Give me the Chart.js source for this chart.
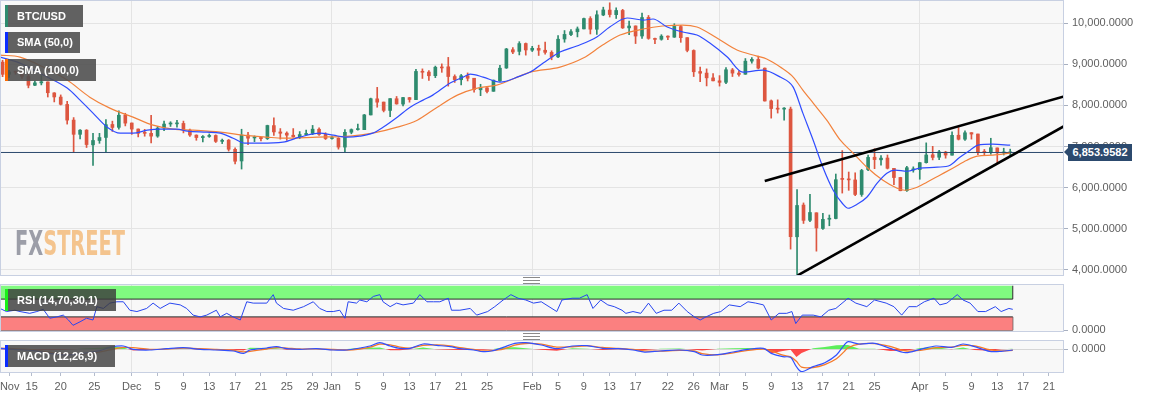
<!DOCTYPE html>
<html>
<head>
<meta charset="utf-8">
<title>BTC/USD</title>
<script src="https://cdn.jsdelivr.net/npm/chart.js@4.4.1/dist/chart.umd.min.js"></script>
<style>
  html, body { margin: 0; padding: 0; background: #fff; }
  #wrap { position: relative; width: 1153px; height: 399px; overflow: hidden; font-family: "Liberation Sans", Arial, sans-serif; }
  canvas { position: absolute; left: 0; }
  #main { top: 0; }
  #rsi { top: 283px; }
  #macd { top: 336px; }
  .tag { position: absolute; left: 5px; height: 22px; box-sizing: border-box; padding-left: 9px; border-left: 3px solid;
         background: rgba(80, 80, 80, 0.9); color: #fff; font: bold 11px "Liberation Sans", Arial, sans-serif; line-height: 22px; z-index: 3; white-space: nowrap; }
  .handle { position: absolute; left: 523px; width: 17px; height: 5px; border-top: 1px solid #8a8a8a; border-bottom: 1px solid #8a8a8a; z-index: 3; }
  .handle::after { content: ""; position: absolute; left: 0; right: 0; top: 2px; border-top: 1px solid #8a8a8a; }
  #price { position: absolute; left: 1068px; top: 144px; width: 64px; height: 17px; background: #2c4a6e; color: #fff;
           font: bold 11px "Liberation Sans", Arial, sans-serif; line-height: 17px; text-align: center; z-index: 3; }
  #price::before { content: ""; position: absolute; left: -4px; top: 4px; border-right: 4px solid #2c4a6e; border-top: 4.5px solid transparent; border-bottom: 4.5px solid transparent; }
  #logo { position: absolute; left: 15px; top: 226px; font: bold 34px "DejaVu Sans", sans-serif; line-height: 34px;
          transform: scaleX(0.57); transform-origin: 0 0; white-space: nowrap; z-index: 2; letter-spacing: 0; }
  #logo .fx { color: #9c9ea8; }
  #logo .st { color: #f4c48e; }
</style>
</head>
<body>
<div id="wrap">
  <canvas id="main" width="1153" height="276"></canvas>
  <canvas id="rsi" width="1153" height="57"></canvas>
  <canvas id="macd" width="1153" height="63"></canvas>

  <div class="tag" style="top:5px;width:78px;border-color:#2e8b6e">BTC/USD</div>
  <div class="tag" style="top:32px;width:75px;height:21px;line-height:21px;border-color:#0a2cff">SMA (50,0)</div>
  <div class="tag" style="top:59px;width:91px;border-color:#ff6a00">SMA (100,0)</div>
  <div class="tag" style="top:289px;width:111px;border-color:#19f019;background:rgba(60,60,60,0.82)">RSI (14,70,30,1)</div>
  <div class="tag" style="top:345px;width:110px;border-color:#0a2cff">MACD (12,26,9)</div>

  <div id="logo"><span class="fx">FX</span><span class="st">STREET</span></div>
  <div id="price">6,853.9582</div>
  <div class="handle" style="top:277px"></div>
  <div class="handle" style="top:333px"></div>
</div>

<script>
// x values are days counted from 1 Nov 2019 (0 = Nov 1); candles are daily, first one is 11 Nov 2019
const FIRST_DAY = 10;
const X_MIN = 9.6;
const X_MAX = 174.33;

const opens = [
  9055, 8759, 8812, 8811, 8705, 8491, 8549, 8573, 8305, 8204, 8024, 7643, 7296, 7398, 7039, 7145, 7220, 7536, 7466, 7764,
  7572, 7425, 7324, 7320, 7253, 7450, 7547, 7551, 7561, 7397, 7277, 7216, 7244, 7268, 7124, 7154, 6931, 6647, 7277, 7208,
  7220, 7192, 7509, 7354, 7325, 7274, 7238, 7289, 7317, 7420, 7294, 7194, 7202, 6985, 7346, 7411, 7410, 7768, 8161, 8082,
  7878, 8163, 8033, 8190, 8141, 8825, 8812, 8725, 8927, 8941, 8704, 8626, 8722, 8662, 8381, 8429, 8344, 8602, 8912, 9357,
  9316, 9508, 9346, 9389, 9344, 9292, 9183, 9618, 9726, 9794, 9864, 10116, 9856, 10203, 10323, 10211, 10313, 9889, 9936, 9691,
  10144, 9629, 9611, 9688, 9663, 9921, 9651, 9338, 8826, 8788, 8671, 8599, 8563, 8865, 8788, 8760, 9079, 9121, 8908, 8112,
  7922, 7910, 7913, 4800, 5573, 5201, 5385, 5002, 5228, 5245, 6207, 6206, 6185, 5831, 6437, 6738, 6675, 6719, 6467, 6245,
  5925, 6430, 6437, 6606, 6798, 6738, 6863, 6788, 7274, 7177, 7337, 7304, 6867, 6858, 6965, 6843, 6845
];
const highs = [
  9100, 8853, 8836, 8826, 8760, 8591, 8727, 8574, 8312, 8256, 8100, 7704, 7410, 7410, 7319, 7320, 7655, 7617, 7868, 7809,
  7572, 7428, 7418, 7760, 7488, 7621, 7603, 7634, 7618, 7424, 7284, 7266, 7305, 7284, 7181, 7171, 6965, 7420, 7346, 7257,
  7223, 7519, 7695, 7436, 7357, 7436, 7363, 7399, 7513, 7454, 7335, 7254, 7213, 7413, 7428, 7544, 7781, 8178, 8440, 8082,
  8166, 8218, 8198, 8197, 8880, 8890, 8846, 8958, 9012, 9170, 8745, 8755, 8792, 8663, 8515, 8434, 8620, 8975, 9390, 9406,
  9553, 9521, 9439, 9468, 9540, 9331, 9701, 9824, 9846, 9911, 10130, 10162, 10305, 10393, 10500, 10378, 10341, 10053, 9938, 10250,
  10191, 9643, 9723, 9698, 9990, 9951, 9652, 9354, 8932, 8890, 8775, 8726, 8921, 8901, 8843, 9142, 9167, 9200, 8914, 8133,
  8136, 7950, 7960, 5950, 5625, 5836, 5385, 5371, 5331, 6329, 6900, 6378, 6359, 6443, 6789, 6944, 6779, 6792, 6467, 6250,
  6517, 6504, 6612, 7088, 7003, 6904, 6883, 7355, 7460, 7383, 7337, 7304, 6928, 7200, 6965, 6958, 6935
];
const lows = [
  8700, 8685, 8761, 8660, 8428, 8480, 8500, 8205, 8085, 8010, 7545, 6850, 7185, 6975, 6540, 7077, 6860, 7366, 7420, 7501,
  7295, 7233, 7250, 7089, 7223, 7384, 7488, 7470, 7331, 7246, 7151, 7111, 7222, 7097, 7070, 6888, 6577, 6450, 7041, 7118,
  7136, 7170, 7267, 7179, 7150, 7225, 7189, 7288, 7287, 7269, 7170, 7175, 6935, 6870, 7309, 7400, 7409, 7768, 7956, 7842,
  7727, 8030, 7985, 8079, 8140, 8657, 8612, 8677, 8806, 8470, 8560, 8500, 8596, 8320, 8238, 8307, 8344, 8584, 8901, 9262,
  9230, 9225, 9313, 9217, 9248, 9112, 9163, 9539, 9697, 9669, 9864, 9740, 9730, 10185, 10153, 10118, 9874, 9722, 9507, 9632,
  9611, 9507, 9589, 9600, 9657, 9537, 9305, 8704, 8577, 8475, 8599, 8471, 8532, 8704, 8712, 8757, 9032, 8890, 8105, 7690,
  7814, 7642, 4500, 3860, 5125, 5169, 4450, 4981, 5069, 5236, 5865, 5932, 5802, 5785, 6413, 6460, 6547, 6452, 6070, 5920,
  5903, 6374, 6202, 6595, 6673, 6679, 6715, 6788, 7158, 7150, 7179, 6802, 6789, 6811, 6600, 6793, 6800
];
const closes = [
  8757, 8815, 8809, 8708, 8491, 8550, 8577, 8309, 8206, 8027, 7642, 7296, 7397, 7047, 7146, 7218, 7531, 7463, 7761, 7569,
  7424, 7321, 7320, 7252, 7448, 7546, 7556, 7564, 7400, 7278, 7217, 7243, 7269, 7124, 7152, 6932, 6640, 7276, 7202, 7219,
  7191, 7511, 7355, 7322, 7275, 7238, 7290, 7317, 7422, 7293, 7193, 7200, 6985, 7345, 7411, 7411, 7769, 8163, 8079, 7879,
  8166, 8037, 8192, 8144, 8828, 8808, 8723, 8930, 8913, 8704, 8629, 8722, 8661, 8386, 8431, 8340, 8615, 8907, 9375, 9301,
  9507, 9351, 9392, 9345, 9293, 9181, 9613, 9730, 9796, 9864, 10116, 9857, 10208, 10326, 10214, 10313, 9889, 9934, 9690, 10141,
  9633, 9608, 9687, 9663, 9925, 9651, 9341, 8820, 8784, 8672, 8599, 8562, 8869, 8787, 8755, 9078, 9122, 8909, 8108, 7924,
  7909, 7911, 4800, 5563, 5200, 5392, 5015, 5225, 5238, 6191, 6198, 6186, 5831, 6416, 6734, 6681, 6716, 6469, 6243, 5922,
  6483, 6438, 6606, 6793, 6733, 6868, 6791, 7271, 7176, 7334, 7302, 6865, 6859, 6971, 6845, 6843, 6854
];

const sma50Days = [9.6, 12.7, 16.3, 20.0, 22.0, 24.0, 26.2, 28.2, 30.2, 32.4, 34.4, 37.0, 38.6, 41.6, 43.7, 45.7, 47.5, 49.9, 53.4, 56.0,
  59.1, 61.2, 63.3, 65.3, 67.3, 68.9, 71.1, 73.1, 75.1, 76.6, 79.3, 81.3, 82.4, 84.4, 87.0, 90.1, 91.7, 93.7, 96.3, 98.9,
  102.0, 104.0, 106.7, 109.2, 110.7, 112.9, 115.3, 117.5, 119.5, 122.2, 124.6, 127.7, 130.4, 132.4, 133.9, 135.5, 137.0, 138.6, 140.0, 140.9,
  142.3, 143.8, 145.4, 146.9, 148.2, 150.0, 152.0, 154.7, 156.7, 158.2, 159.8, 161.0, 163.3, 166.0];
const sma50 = [9178, 9031, 8739, 8422, 8129, 7812, 7470, 7324, 7324, 7397, 7422, 7422, 7373, 7349, 7324, 7202, 7080, 7080, 7105, 7227,
  7324, 7275, 7227, 7251, 7324, 7470, 7714, 7958, 8129, 8251, 8544, 8690, 8763, 8690, 8568, 8714, 8812, 9031, 9300, 9446,
  9666, 9909, 10129, 10080, 10105, 9909, 9788, 9714, 9519, 9178, 8812, 8861, 8690, 8446, 7812, 7153, 6495, 5934, 5617, 5495,
  5593, 5763, 6105, 6349, 6422, 6397, 6471, 6495, 6544, 6739, 6910, 7031, 7056, 7031];

const sma100Days = [9.6, 12.7, 16.3, 20.0, 23.5, 26.6, 30.2, 33.3, 36.4, 39.5, 43.7, 47.2, 50.9, 53.4, 58.7, 63.8, 67.3, 71.1, 74.2, 77.3,
  80.4, 83.5, 86.5, 90.1, 91.7, 96.3, 99.9, 102.9, 105.6, 109.2, 112.2, 115.3, 117.5, 120.6, 123.7, 126.8, 128.3, 130.4, 132.4, 133.9,
  135.5, 137.6, 139.7, 141.7, 143.8, 146.3, 148.5, 149.7, 151.6, 153.1, 155.1, 157.1, 159.3, 160.9, 163.3, 166.0];
const sma100 = [9227, 9178, 8934, 8617, 8202, 7934, 7714, 7519, 7422, 7397, 7349, 7275, 7227, 7202, 7227, 7251, 7324, 7470, 7641, 7958,
  8251, 8422, 8495, 8714, 8812, 8934, 9153, 9470, 9714, 9861, 9934, 9958, 9909, 9641, 9349, 9202, 9129, 8934, 8690, 8373,
  8056, 7641, 7153, 6836, 6495, 6178, 5983, 5934, 6007, 6129, 6300, 6471, 6666, 6763, 6788, 6836];

// hand-drawn channel lines: [start day, end day] and [start price, end price]
const upperTrendDays = [128.0, 174.33];
const upperTrendValues = [6161, 8217];
const lowerTrendDays = [133.1, 174.33];
const lowerTrendValues = [3861, 7495];

const lastPrice = 6853.9582;
const priceTicks = [4000, 5000, 6000, 7000, 8000, 9000, 10000];

const rsiDays = [9.6, 10.6, 11.9, 12.7, 14.2, 15.3, 16.3, 17.3, 18.4, 19.4, 20.2, 20.9, 22.0, 23.0, 24.0, 24.6, 25.6, 26.6, 27.7, 28.7,
  29.7, 30.8, 32.3, 33.3, 34.4, 35.9, 37.5, 38.5, 39.5, 40.6, 41.6, 43.1, 43.7, 44.7, 45.7, 46.8, 47.8, 48.8, 50.9, 51.9,
  52.4, 53.5, 55.0, 56.6, 58.1, 59.1, 60.2, 61.2, 62.2, 63.0, 63.5, 64.8, 65.3, 66.4, 67.4, 68.4, 68.9, 70.0, 71.0, 72.0,
  73.6, 74.6, 75.7, 76.7, 77.7, 79.0, 79.5, 80.8, 82.4, 83.4, 85.1, 86.2, 87.5, 88.7, 89.8, 91.0, 92.2, 93.4, 94.6, 95.8,
  96.6, 98.2, 99.3, 100.5, 101.4, 102.6, 103.7, 104.7, 105.9, 106.5, 107.6, 108.8, 110.0, 111.2, 112.4, 113.6, 114.7, 116.0, 117.1, 118.0,
  118.9, 120.1, 121.2, 122.5, 124.2, 125.4, 126.6, 127.8, 129.0, 130.2, 131.4, 132.2, 132.8, 133.8, 135.5, 136.7, 137.9, 139.0, 140.9, 142.1,
  143.8, 145.0, 146.8, 148.0, 149.2, 150.3, 151.5, 152.7, 154.2, 155.1, 156.2, 157.8, 158.7, 159.8, 161.0, 162.2, 163.7, 164.6, 165.8, 166.4];
const rsiValues = [49, 42, 45, 42, 38, 42, 47, 27, 30, 34, 23, 11, 19, 27, 23, 53, 49, 61, 64, 64,
  45, 42, 49, 61, 49, 61, 57, 49, 34, 30, 34, 45, 30, 38, 30, 23, 64, 61, 61, 80,
  61, 49, 45, 53, 64, 49, 42, 42, 45, 27, 64, 61, 68, 64, 76, 80, 64, 53, 61, 57,
  61, 80, 64, 64, 64, 72, 45, 45, 49, 34, 42, 53, 68, 80, 72, 68, 61, 64, 53, 42,
  68, 72, 72, 80, 49, 68, 57, 53, 45, 38, 42, 38, 61, 38, 45, 45, 61, 42, 30, 23,
  30, 38, 42, 57, 53, 64, 61, 57, 23, 38, 38, 42, 15, 34, 34, 30, 45, 49, 72, 61,
  53, 68, 61, 53, 34, 53, 53, 64, 72, 57, 61, 80, 68, 61, 42, 42, 53, 42, 49, 47];

const macdDays = [9.6, 11.7, 14.8, 17.3, 19.9, 22.5, 25.1, 26.6, 28.7, 30.2, 32.8, 35.4, 38.0, 40.6, 43.1, 45.7, 47.3, 48.3, 50.9, 52.4,
  54.0, 56.0, 58.6, 61.2, 63.3, 65.3, 66.9, 68.4, 70.0, 71.5, 73.1, 75.1, 77.2, 79.3, 80.8, 82.9, 84.4, 85.7, 87.5, 89.3,
  91.0, 93.4, 95.8, 98.2, 100.5, 102.9, 105.3, 107.6, 109.4, 111.8, 114.8, 117.1, 118.3, 120.7, 123.1, 125.4, 127.8, 129.0, 130.8, 132.0,
  132.9, 133.7, 135.5, 137.3, 139.1, 140.3, 140.9, 142.6, 145.0, 147.4, 149.8, 152.1, 154.5, 156.9, 158.7, 160.5, 162.8, 164.6, 166.4];
const macdLine = [21, -10, -51, -134, -185, -134, -51, 51, 93, -10, -31, 10, 41, -10, -31, -62, -134, -31, 31, 72,
  10, -10, 10, -31, -31, 31, 93, 196, 93, 21, 21, 154, 113, 72, 10, -31, -82, -62, 51, 175,
  196, 123, 10, 93, 103, 21, 10, -31, -93, -62, -31, -82, -185, -175, -93, -10, 21, -134, -237, -257,
  -545, -700, -545, -422, -185, 123, 226, 154, 175, 21, -113, -10, 93, 51, 154, 72, -72, -72, -31];
const macdSignal = [30, 10, -30, -100, -160, -150, -90, -30, 50, 40, -10, 0, 25, 10, -15, -45, -90, -70, 0, 45,
  30, 0, 5, -15, -30, 0, 55, 150, 130, 60, 30, 110, 125, 95, 40, -10, -60, -50, 0, 120,
  170, 150, 60, 70, 95, 50, 20, -10, -60, -65, -45, -60, -140, -180, -120, -40, 0, -60, -190, -240,
  -380, -560, -570, -480, -300, -80, 40, 150, 165, 80, -60, -40, 40, 60, 110, 100, -20, -60, -40];
const macdHist = [-10, -20, -20, -35, -25, 15, 40, 80, 45, -45, -20, 10, 15, -20, -15, -20, -45, 40, 30, 25,
  -20, -10, 5, -15, 0, 30, 40, 45, -35, -40, -10, 45, -10, -20, -30, -20, -20, -10, 50, 55,
  25, -25, -50, 25, 10, -30, -10, -20, -30, 5, 15, -20, -45, 5, 25, 30, 20, -130, -60, -20,
  -250, -120, 25, 60, 115, 125, 120, 5, 10, -60, -55, 30, 55, -10, 45, -30, -50, -10, 10];

const tickDays = [11.1, 14.5, 19, 24.2, 30, 34, 38, 42, 46, 50, 54, 58, 61, 65, 69, 73, 77, 81, 85,
  92, 96, 100, 104, 108, 113, 117, 121, 125, 129, 133, 137, 141, 145, 152, 156, 160, 164, 168, 172];
const tickLabels = ["Nov", "15", "20", "25", "Dec", "5", "9", "13", "17", "21", "25", "29", "Jan", "5", "9", "13", "17", "21", "25",
  "Feb", "5", "9", "13", "17", "22", "26", "Mar", "5", "9", "13", "17", "21", "25", "Apr", "5", "9", "13", "17", "21"];
const monthStarts = ["Dec", "Jan", "Feb", "Mar", "Apr"];

const UP = "#2e8b6e";
const DOWN = "#dd5640";
const GRID = "#e4e4e4";
const TEXT = "#5f5f5f";

const xy = (xs, ys) => xs.map((x, i) => ({ x, y: ys[i] }));
const candleDay = (i) => FIRST_DAY + i;
const fmt4 = (v) => Number(v).toLocaleString("en-US", { minimumFractionDigits: 4, maximumFractionDigits: 4 });

Chart.defaults.font.family = '"Liberation Sans", Arial, sans-serif';
Chart.defaults.font.size = 11;
Chart.defaults.color = TEXT;

const panelFrame = {
  id: "panelFrame",
  beforeDraw(chart) {
    const { ctx, chartArea: a } = chart;
    ctx.save();
    ctx.fillStyle = "#f8f8f8";
    ctx.fillRect(a.left, a.top, a.right - a.left, a.bottom - a.top);
    ctx.restore();
  },
  afterDraw(chart) {
    const { ctx, chartArea: a } = chart;
    ctx.save();
    ctx.strokeStyle = "#c8d0e2";
    ctx.lineWidth = 1;
    ctx.strokeRect(a.left + 0.5, a.top + 0.5, a.right - a.left - 1, a.bottom - a.top - 1);
    ctx.restore();
  },
};

function xScale(showLabels) {
  return {
    type: "linear",
    min: X_MIN,
    max: X_MAX,
    offset: false,
    afterBuildTicks: (s) => { s.ticks = tickDays.map((value) => ({ value })); },
    afterFit: (s) => {
      s.paddingLeft = 0;
      s.paddingRight = 0;
      s.height = showLabels ? 26 : 0;
    },
    border: { display: false },
    grid: {
      offset: false,
      color: (c) => (monthStarts.includes(tickLabels[c.index]) ? GRID : "transparent"),
      tickColor: showLabels ? "#b4bccc" : "transparent",
      drawTicks: showLabels,
      tickLength: 3,
    },
    ticks: {
      display: showLabels,
      autoSkip: false,
      maxRotation: 0,
      padding: 4,
      color: TEXT,
      callback: (v, i) => tickLabels[i],
    },
  };
}

function yScale(min, max, ticks, gridColor) {
  return {
    type: "linear",
    position: "right",
    min,
    max,
    afterBuildTicks: (s) => { s.ticks = ticks.map((value) => ({ value })); },
    afterFit: (s) => {
      s.width = 89;
      s.paddingTop = 0;
      s.paddingBottom = 0;
    },
    border: { display: false },
    grid: { color: gridColor, tickColor: "#a8b0c0", tickLength: 4 },
    ticks: { padding: 4, color: TEXT, callback: (v) => fmt4(v) },
  };
}

const baseOptions = {
  responsive: false,
  animation: false,
  devicePixelRatio: 1,
  events: [],
  plugins: { legend: { display: false }, tooltip: { enabled: false } },
};

// price panel
const wickData = highs.map((h, i) => ({ x: candleDay(i), y: [lows[i], h] }));
const bodyData = opens.map((o, i) => ({ x: candleDay(i), y: [o, closes[i]] }));
const candleColor = (c) => (closes[c.dataIndex] >= opens[c.dataIndex] ? UP : DOWN);

new Chart(document.getElementById("main"), {
  type: "bar",
  data: {
    datasets: [
      { type: "line", data: xy(upperTrendDays, upperTrendValues), borderColor: "#000", borderWidth: 2.6, pointRadius: 0, order: 0 },
      { type: "line", data: xy(lowerTrendDays, lowerTrendValues), borderColor: "#000", borderWidth: 2.6, pointRadius: 0, order: 0 },
      { type: "line", data: xy(sma50Days, sma50), borderColor: "#2f4cff", borderWidth: 1.2, pointRadius: 0, cubicInterpolationMode: "monotone", order: 1 },
      { type: "line", data: xy(sma100Days, sma100), borderColor: "#f2823c", borderWidth: 1.2, pointRadius: 0, cubicInterpolationMode: "monotone", order: 1 },
      { type: "line", data: xy([X_MIN, X_MAX], [lastPrice, lastPrice]), borderColor: "#2c4a6e", borderWidth: 1, pointRadius: 0, order: 2 },
      { data: wickData, backgroundColor: candleColor, barThickness: 1, grouped: false, order: 4 },
      { data: bodyData, backgroundColor: candleColor, barThickness: 3, minBarLength: 1, grouped: false, order: 3 },
    ],
  },
  options: {
    ...baseOptions,
    layout: { padding: 0 },
    scales: {
      x: xScale(false),
      y: yScale(3845, 10568, priceTicks, GRID),
    },
  },
  plugins: [panelFrame],
});

// RSI panel
const rsiEnd = rsiDays[rsiDays.length - 1];
new Chart(document.getElementById("rsi"), {
  type: "line",
  data: {
    datasets: [
      { data: xy(rsiDays, rsiValues), borderColor: "#2846f0", borderWidth: 1, pointRadius: 0, order: 0 },
      { data: xy([X_MIN, rsiEnd], [100, 100]), borderWidth: 0, pointRadius: 0, fill: "+1", backgroundColor: "#80fa80", order: 3 },
      { data: xy([X_MIN, rsiEnd], [70, 70]), borderColor: "#2a2a2a", borderWidth: 1, pointRadius: 0, order: 2 },
      { data: xy([X_MIN, rsiEnd], [30, 30]), borderColor: "#2a2a2a", borderWidth: 1, pointRadius: 0, fill: "+1", backgroundColor: "#fb8080", order: 2 },
      { data: xy([X_MIN, rsiEnd], [0, 0]), borderColor: "#555", borderWidth: 1, pointRadius: 0, order: 2 },
      { data: xy([rsiEnd, rsiEnd, rsiEnd, rsiEnd, rsiEnd], [0, 30, null, 70, 100]), borderColor: "#2a2a2a", borderWidth: 1, pointRadius: 0, spanGaps: false, order: 2 },
    ],
  },
  options: {
    ...baseOptions,
    layout: { padding: { top: 1, bottom: 8, left: 0, right: 0 } },
    scales: {
      x: xScale(false),
      y: yScale(-4, 104, [0], "transparent"),
    },
  },
  plugins: [panelFrame],
});

// MACD panel with the date axis
new Chart(document.getElementById("macd"), {
  type: "line",
  data: {
    datasets: [
      {
        data: xy(macdDays, macdHist), borderWidth: 0, pointRadius: 0, order: 2,
        fill: { target: "origin", above: "rgba(40, 235, 40, 0.75)", below: "rgba(255, 30, 30, 0.8)" },
      },
      { data: xy(macdDays, macdSignal), borderColor: "#f57a2a", borderWidth: 1.3, pointRadius: 0, tension: 0.3, order: 1 },
      { data: xy(macdDays, macdLine), borderColor: "#3050ff", borderWidth: 1.2, pointRadius: 0, tension: 0.3, order: 0 },
    ],
  },
  options: {
    ...baseOptions,
    layout: { padding: { top: 4, bottom: 0, left: 0, right: 0 } },
    scales: {
      x: xScale(true),
      y: yScale(-740, 278, [0], "#d6d6d6"),
    },
  },
  plugins: [panelFrame],
});
</script>
</body>
</html>
